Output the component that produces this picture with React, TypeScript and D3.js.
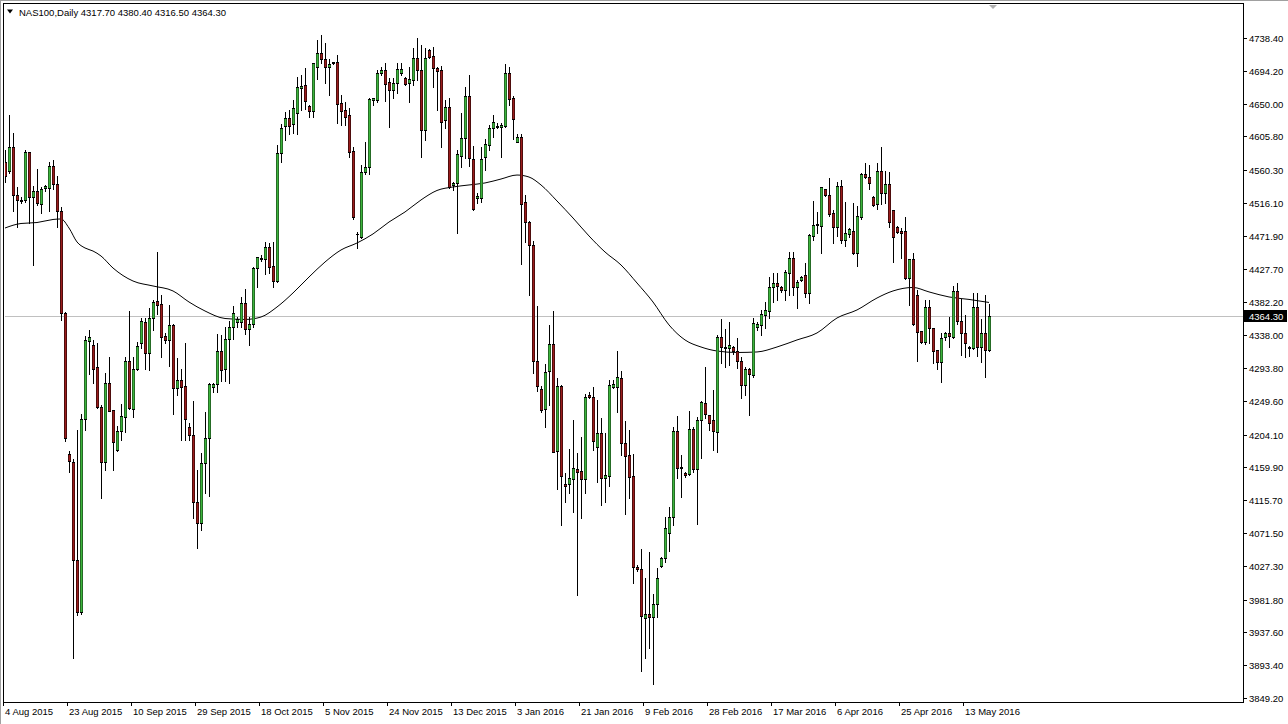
import React from 'react';
import * as d3 from 'd3';

const W = 1288;
const H = 724;

const barOpen = [
4571.7,4559.5,4592.2,4526.7,4520.2,4519.5,4584.8,4523.8,4532.7,4514.1,4536.3,4536.1,4565.4,4541.4,4505.8,4367.4,4178.1,4167.3,4034.8,3964.4,
4224.6,4329.7,4324.8,4295.5,4241.7,4167.6,4274.0,4237.2,4183.4,4209.4,4228.2,4303.3,4238.2,4292.1,4327.1,4356.2,4313.6,4360.8,4384.1,4379.6,
4336.9,4331.6,4351.7,4266.5,4277.7,4269.6,4214.7,4203.6,4113.7,4085.4,4166.3,4199.1,4267.8,4272.3,4317.1,4292.1,4332.5,4348.7,4356.2,4356.2,
4381.0,4346.0,4353.1,4428.1,4440.7,4440.3,4456.4,4431.2,4411.4,4583.1,4619.9,4630.6,4622.5,4637.8,4671.0,4675.1,4646.8,4640.5,4698.9,4717.8,
4709.7,4698.9,4705.1,4706.1,4651.2,4641.4,4634.7,4586.6,4474.4,4469.9,4558.3,4565.0,4654.9,4654.9,4690.8,4695.3,4679.5,4668.4,4678.2,4691.7,
4684.1,4678.2,4681.8,4711.1,4695.3,4614.5,4722.2,4714.2,4697.6,4695.3,4627.9,4645.0,4540.4,4542.7,4579.4,4603.3,4660.3,4575.0,4522.4,4522.4,
4577.7,4594.3,4616.8,4618.1,4618.8,4620.3,4691.0,4657.3,4598.2,4604.4,4517.7,4490.4,4460.1,4303.7,4266.1,4238.7,4289.2,4326.7,4182.4,4269.0,
4137.7,4137.7,4144.8,4158.3,4154.5,4144.8,4258.0,4254.6,4187.0,4205.9,4145.2,4148.3,4268.6,4268.6,4279.9,4192.4,4176.6,4148.3,4026.2,4022.6,
3956.6,3962.4,3958.0,3975.9,4027.1,4037.5,4071.9,4092.7,4209.4,4160.5,4152.8,4151.0,4211.3,4157.3,4223.8,4247.1,4230.5,4223.8,4208.0,4335.2,
4322.1,4320.4,4322.5,4317.1,4303.7,4270.9,4292.1,4284.4,4349.5,4351.7,4365.2,4371.0,4402.5,4407.9,4403.4,4398.9,4422.2,4441.6,4402.5,4412.4,
4419.1,4395.3,4471.7,4486.5,4485.1,4534.6,4526.9,4503.1,4484.2,4539.0,4466.3,4474.4,4478.8,4449.2,4497.7,4555.2,4551.5,4524.6,4514.8,4559.6,
4529.2,4541.7,4506.7,4483.4,4478.8,4478.8,4414.7,4440.3,4392.2,4344.1,4329.3,4375.6,4347.3,4318.1,4302.4,4335.2,4341.4,4336.0,4398.0,4357.5,
4341.4,4320.4,4320.4,4375.6,4322.5,4341.4,4317.7
];

const barHigh = [
4587.5,4635.3,4610.9,4537.7,4524.2,4587.5,4584.8,4538.5,4561.9,4537.7,4540.4,4571.7,4574.0,4552.5,4510.7,4369.3,4181.5,4170.8,4210.3,4231.9,
4336.9,4344.4,4332.1,4327.5,4244.0,4287.5,4308.2,4237.2,4215.7,4245.3,4308.2,4371.0,4308.2,4329.3,4360.8,4360.8,4374.2,4385.4,4450.5,4392.2,
4340.6,4378.7,4353.0,4306.9,4292.1,4327.1,4220.1,4249.4,4156.4,4179.7,4235.0,4273.0,4273.6,4339.6,4338.3,4349.5,4357.6,4377.4,4362.9,4389.9,
4399.8,4362.2,4430.3,4443.8,4446.1,4464.0,4461.8,4464.0,4594.3,4622.5,4638.7,4641.4,4654.9,4686.3,4688.6,4697.6,4648.1,4705.1,4735.7,4742.4,
4731.3,4709.7,4706.5,4715.5,4661.6,4652.6,4643.7,4591.2,4477.5,4567.3,4598.7,4657.2,4658.0,4695.3,4698.9,4705.1,4684.1,4684.1,4704.3,4704.3,
4686.3,4699.7,4724.5,4738.0,4729.0,4724.5,4723.2,4726.7,4699.7,4700.7,4654.9,4657.2,4544.8,4587.5,4637.0,4672.0,4688.6,4592.9,4529.2,4592.0,
4601.9,4621.2,4634.7,4623.9,4623.9,4703.0,4699.3,4659.7,4609.1,4609.1,4527.4,4492.3,4464.9,4376.8,4270.0,4298.8,4351.7,4371.0,4280.5,4270.9,
4152.1,4184.3,4224.3,4179.4,4200.2,4259.3,4261.5,4267.6,4250.7,4226.1,4205.9,4277.7,4277.7,4317.1,4290.2,4222.8,4210.3,4178.0,4028.4,4049.6,
4010.5,4046.4,3989.4,4024.0,4039.6,4093.5,4106.2,4213.9,4229.2,4176.6,4154.1,4236.3,4214.7,4227.4,4249.0,4295.6,4231.0,4264.2,4338.3,4359.4,
4346.0,4356.2,4323.5,4333.8,4309.0,4295.6,4293.4,4360.8,4356.2,4372.0,4383.1,4416.0,4422.2,4422.2,4404.3,4425.9,4450.5,4450.5,4412.4,4417.8,
4434.9,4474.4,4519.2,4504.4,4537.6,4535.0,4549.4,4506.7,4544.8,4547.1,4517.9,4482.0,4516.5,4512.1,4556.9,4569.6,4567.3,4525.5,4569.6,4591.2,
4559.6,4558.3,4506.7,4485.1,4482.0,4496.9,4440.3,4448.4,4398.9,4344.1,4385.4,4385.4,4347.3,4318.1,4340.6,4342.7,4362.9,4404.3,4407.9,4386.4,
4365.2,4323.5,4395.3,4395.3,4359.4,4392.2,4380.4
];

const barLow = [
4544.4,4557.1,4505.8,4483.8,4516.1,4518.0,4488.6,4432.3,4513.4,4503.3,4532.3,4505.8,4535.0,4483.8,4359.0,4195.5,4153.7,3903.1,3961.5,3963.0,
4210.3,4285.7,4273.6,4239.3,4118.3,4156.4,4235.9,4156.4,4182.0,4196.8,4208.0,4238.0,4227.4,4291.1,4320.4,4292.1,4291.1,4345.0,4366.6,4308.2,
4327.1,4296.5,4231.9,4257.4,4196.8,4196.8,4196.8,4091.3,4050.9,4075.6,4125.8,4121.4,4261.9,4261.9,4276.7,4276.7,4273.2,4332.5,4349.5,4349.5,
4339.6,4324.8,4348.7,4403.4,4438.4,4420.5,4421.4,4402.5,4410.0,4571.7,4601.0,4609.1,4610.4,4609.1,4641.4,4642.4,4631.6,4631.6,4682.8,4704.3,
4677.4,4661.6,4703.8,4624.3,4621.2,4621.2,4577.7,4494.2,4455.1,4468.6,4555.2,4555.2,4648.1,4652.6,4688.6,4653.9,4618.9,4657.2,4664.3,4688.6,
4675.1,4652.6,4675.1,4681.8,4578.5,4601.0,4711.1,4672.8,4641.4,4592.0,4616.8,4535.9,4533.6,4475.3,4565.0,4576.3,4566.0,4506.0,4515.7,4517.9,
4560.6,4587.5,4605.4,4617.2,4578.1,4618.8,4647.6,4602.0,4598.0,4433.5,4463.4,4392.7,4286.8,4262.9,4233.9,4214.6,4243.4,4180.9,4130.4,4082.3,
4113.6,4125.6,4099.2,3988.6,4091.9,4125.6,4253.4,4183.4,4140.7,4109.3,4113.7,4134.9,4266.5,4235.0,4176.6,4097.1,4118.3,4004.6,4020.3,3886.0,
3902.7,3916.2,3868.1,3958.8,4026.2,4032.9,4047.7,4082.3,4145.2,4120.5,4147.4,4149.7,4154.1,4083.6,4172.2,4226.1,4210.3,4183.4,4181.1,4300.2,
4294.8,4297.9,4312.7,4293.4,4253.0,4257.4,4230.5,4282.1,4345.0,4338.3,4347.3,4360.8,4383.1,4385.4,4396.6,4385.4,4392.2,4392.2,4374.2,4411.5,
4389.9,4381.8,4466.3,4475.3,4449.2,4525.6,4498.6,4461.8,4471.7,4462.6,4458.2,4469.9,4447.4,4431.2,4494.2,4549.4,4534.6,4512.1,4507.6,4514.8,
4515.7,4484.2,4437.0,4476.1,4441.6,4413.3,4378.7,4352.0,4303.7,4327.1,4326.2,4327.1,4301.0,4292.1,4275.4,4331.6,4322.5,4333.8,4353.1,4311.3,
4308.2,4310.0,4319.0,4310.0,4302.3,4282.1,4316.5
];

const barClose = [
4552.2,4592.2,4526.7,4519.5,4518.8,4584.8,4523.8,4532.7,4515.6,4535.0,4539.0,4565.4,4541.4,4505.8,4367.4,4200.1,4168.3,4034.8,3964.4,4224.6,
4332.1,4336.0,4293.0,4241.7,4167.6,4274.0,4236.3,4194.5,4209.4,4229.2,4303.3,4239.5,4292.5,4323.5,4357.6,4313.6,4360.8,4383.2,4378.7,4335.2,
4331.6,4351.7,4266.5,4277.7,4267.8,4224.7,4203.6,4113.7,4085.4,4166.3,4199.1,4272.3,4272.3,4317.1,4291.1,4332.5,4348.7,4367.5,4359.8,4381.8,
4346.0,4353.1,4428.1,4442.9,4442.0,4456.4,4429.5,4411.4,4583.9,4617.2,4630.6,4619.9,4644.1,4672.0,4673.7,4653.9,4640.1,4704.3,4717.8,4709.7,
4698.9,4703.0,4705.4,4649.5,4640.5,4631.6,4585.2,4497.7,4474.0,4558.3,4565.0,4655.8,4657.2,4690.8,4695.3,4676.4,4668.4,4678.2,4696.2,4696.2,
4676.4,4682.8,4711.1,4695.3,4614.5,4711.1,4713.2,4697.6,4694.4,4625.6,4645.0,4537.3,4542.7,4582.1,4603.3,4660.3,4576.3,4507.6,4525.5,4575.0,
4595.6,4616.8,4625.6,4619.9,4621.2,4691.0,4655.8,4629.8,4605.3,4514.4,4490.4,4460.1,4303.7,4269.0,4237.2,4288.3,4326.7,4180.9,4269.0,4148.7,
4134.3,4145.8,4159.2,4153.6,4144.8,4254.6,4254.6,4195.5,4205.9,4145.2,4149.7,4270.9,4272.3,4281.3,4192.4,4175.3,4147.4,4026.2,4022.6,3959.7,
3962.4,3958.0,3975.9,4010.5,4037.5,4077.9,4092.7,4209.4,4158.7,4159.5,4149.7,4211.3,4157.3,4223.8,4248.4,4231.9,4220.1,4209.4,4336.0,4321.7,
4321.4,4324.8,4317.1,4303.7,4270.9,4292.1,4285.7,4354.0,4353.1,4366.6,4372.0,4402.5,4408.7,4404.3,4398.9,4423.6,4441.6,4403.4,4410.1,4416.8,
4395.3,4473.0,4486.5,4487.2,4537.3,4526.9,4501.3,4484.2,4539.0,4466.3,4475.3,4480.7,4449.2,4498.6,4555.2,4551.5,4543.5,4513.4,4559.6,4529.2,
4541.7,4490.9,4470.7,4477.5,4476.1,4414.7,4440.3,4353.1,4342.7,4329.3,4375.6,4347.3,4317.1,4302.4,4333.8,4341.4,4336.9,4398.0,4357.5,4341.4,
4327.9,4322.5,4375.6,4322.5,4340.6,4318.1,4364.3
];

// moving average read at sampled bars
const maBars = [0,4,8,12,14,16,18,20,22,24,27,32,37,42,46,50,55,60,64,68,72,76,80,84,88,92,96,100,104,108,112,116,120,124,128,131,134,138,142,146,150,154,158,162,166,170,174,178,183,188,193,198,203,208,213,218,222,227,231,236,241,246];
const maValues = [4482.4,4488.5,4489.8,4493.9,4494.6,4482.4,4463.6,4455.5,4451.4,4444.7,4428.5,4411.0,4404.3,4397.6,4382.7,4370.6,4360.5,4359.2,4362.5,4376.0,4394.9,4416.4,4436.6,4452.8,4462.2,4474.4,4490.5,4504.0,4520.2,4533.0,4537.7,4540.4,4543.1,4548.4,4553.8,4551.1,4540.4,4518.8,4495.9,4471.7,4450.1,4432.6,4408.3,4382.7,4351.8,4331.6,4322.1,4316.7,4314.7,4315.4,4322.1,4331.6,4341.0,4361.2,4372.0,4388.1,4397.6,4402.3,4396.3,4389.5,4386.2,4382.1];

const priceTicks = ['4738.40','4694.20','4650.00','4605.80','4560.30','4516.10','4471.90','4427.70','4382.20','4338.00','4293.80','4249.60','4204.10','4159.90','4115.70','4071.50','4027.30','3981.80','3937.60','3893.40','3849.20'];
const dateLabels = ['4 Aug 2015','23 Aug 2015','10 Sep 2015','29 Sep 2015','18 Oct 2015','5 Nov 2015','24 Nov 2015','13 Dec 2015','3 Jan 2016','21 Jan 2016','9 Feb 2016','28 Feb 2016','17 Mar 2016','6 Apr 2016','25 Apr 2016','13 May 2016'];
const dateLabelBars = [0,16,32,48,64,80,96,112,128,144,160,176,192,208,224,240];

const symbolTitle = 'NAS100,Daily';
const lastPrice = 4364.3;
const lastPriceLabel = '4364.30';

const BULL = '#3cb43c';
const BULL_EDGE = '#256b25';
const BEAR = '#9a1c1c';
const BEAR_EDGE = '#4e0c0c';
const FONT = '"Liberation Sans", Arial, sans-serif';

export default function App() {
  const left = 4, top = 4, right = 1243, bottom = 702;
  const n = barOpen.length;
  const x = d3.scaleLinear().domain([0, n - 1]).range([5, 5 + 4 * (n - 1)]);
  const y = d3.scaleLinear().domain([3849.2, 4738.4]).range([698, 38]);

  const maLine = d3.line<number>()
    .x((_, i) => x(maBars[i]))
    .y((d) => y(d))
    .curve(d3.curveMonotoneX)(maValues) || '';

  const lastY = Math.round(y(lastPrice));
  const titleText = `${symbolTitle}  ${barOpen[n - 1].toFixed(2)} ${barHigh[n - 1].toFixed(2)} ${barLow[n - 1].toFixed(2)} ${barClose[n - 1].toFixed(2)}`;

  const candles = d3.range(n).map((i) => {
    const o = barOpen[i], c = barClose[i], h = barHigh[i], l = barLow[i];
    const cx = Math.round(x(i));
    const yh = Math.round(y(h));
    const yl = Math.round(y(l));
    const yt = Math.round(y(Math.max(o, c)));
    const yb = Math.round(y(Math.min(o, c)));
    const bull = c >= o;
    const tall = yb - yt >= 2;
    return (
      <g key={i}>
        <rect x={cx} y={yh} width={1} height={yl - yh + 1} fill="#000" />
        {tall ? (
          <>
            <rect x={cx - 1} y={yt} width={3} height={yb - yt + 1} fill={bull ? BULL_EDGE : BEAR_EDGE} />
            <rect x={cx - 1} y={yt} width={3} height={1} fill="#000" />
            <rect x={cx - 1} y={yb} width={3} height={1} fill="#000" />
            <rect x={cx} y={yt + 1} width={1} height={yb - yt - 1} fill={bull ? BULL : BEAR} />
          </>
        ) : (
          <rect x={cx - 1} y={yt} width={3} height={Math.max(1, yb - yt + 1)} fill="#000" />
        )}
      </g>
    );
  });

  return (
    <svg width={W} height={H} viewBox={`0 0 ${W} ${H}`} style={{ position: 'absolute', left: 0, top: 0, display: 'block', background: '#fff' }} shapeRendering="crispEdges">
      <rect x={0} y={0} width={W} height={H} fill="#fff" />
      <defs>
        <clipPath id="plot">
          <rect x={left + 1} y={top + 1} width={right - left - 1} height={bottom - top - 1} />
        </clipPath>
      </defs>
      <line x1={0} x2={W} y1={0.5} y2={0.5} stroke="#a0a0a0" />
      <line x1={0.5} x2={0.5} y1={0} y2={H} stroke="#a0a0a0" />
      <g clipPath="url(#plot)">
        <line x1={left} x2={right} y1={lastY + 0.5} y2={lastY + 0.5} stroke="#c0c0c0" strokeWidth={1} />
        <path d={maLine} fill="none" stroke="#000" strokeWidth={1} shapeRendering="auto" />
        {candles}
      </g>
      <rect x={left - 0.5} y={top - 0.5} width={right - left + 1} height={bottom - top + 1} fill="none" stroke="#000" strokeWidth={1} />
      <path d={`M${x(n - 1)},${top + 1} L${x(n - 1) + 8},${top + 1} L${x(n - 1) + 4},${top + 5} Z`} fill="#b0b0b0" shapeRendering="auto" />
      <path d="M7,9.5 L13,9.5 L10,13.5 Z" fill="#000" shapeRendering="auto" />
      <text x={19} y={16} fontFamily={FONT} fontSize={9.5} fill="#000">{titleText}</text>
      {priceTicks.map((t) => {
        const yy = Math.round(y(+t));
        return (
          <g key={t}>
            <line x1={right} x2={right + 4} y1={yy + 0.5} y2={yy + 0.5} stroke="#000" />
            <text x={1249} y={yy + 3.5} fontFamily={FONT} fontSize={9.5} fill="#000">{t}</text>
          </g>
        );
      })}
      <rect x={right + 1} y={lastY - 6} width={W - right - 2} height={12} fill="#000" />
      <text x={1249} y={lastY + 3.5} fontFamily={FONT} fontSize={9.5} fill="#fff">{lastPriceLabel}</text>
      {dateLabels.map((t, k) => {
        const xx = Math.round(x(dateLabelBars[k]));
        return (
          <g key={t}>
            <line x1={xx - 1.5} x2={xx - 1.5} y1={bottom} y2={bottom + 4} stroke="#000" />
            <text x={xx} y={715} fontFamily={FONT} fontSize={9.5} fill="#000">{t}</text>
          </g>
        );
      })}
    </svg>
  );
}
